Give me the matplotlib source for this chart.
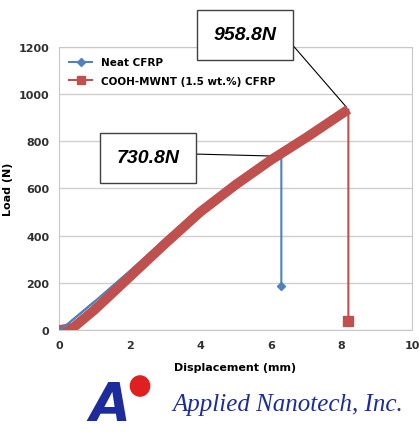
import matplotlib.pyplot as plt
from matplotlib.lines import Line2D
from matplotlib.patches import Circle

# Neat CFRP (displacement mm, load N)
neat_x = [0.0, 0.2, 1.0, 2.0, 3.0, 4.0, 5.0, 6.0, 6.3, 6.3]
neat_y = [0, 20, 120, 250, 385, 510, 620, 705, 731, 185]

# COOH-MWNT (1.5 wt.%) CFRP
mwnt_x = [0.0, 0.2, 0.4, 1.0, 2.0, 3.0, 4.0, 5.0, 6.0, 7.0, 8.0, 8.2, 8.2]
mwnt_y = [0, 5, 10, 85, 225, 365, 500, 615, 720, 815, 915, 935, 40]

peak_labels = ['730.8N', '958.8N']

blue = '#4f81bd'
red = '#c0504d'

fig = plt.figure(figsize=(4.19, 4.39), dpi=100)
ax = fig.add_axes([0.141, 0.246, 0.842, 0.645])

# blue series
ax.plot(neat_x, neat_y, color=blue, lw=1.5, marker='D', markersize=4,
        markevery=[len(neat_x) - 1], zorder=3)
# red series: thin line incl. drop, thick band for rising part
ax.plot(mwnt_x, mwnt_y, color=red, lw=1.5, marker='s', markersize=7,
        markevery=[len(mwnt_x) - 1], zorder=4)
ax.plot(mwnt_x[:-1], mwnt_y[:-1], color=red, lw=7, solid_capstyle='butt', zorder=4)
# blue visible slightly at the start
ax.plot(neat_x[:3], neat_y[:3], color=blue, lw=1.5, zorder=5)

ax.set_xlim(0, 10)
ax.set_ylim(0, 1200)
ax.set_xticks(range(0, 11, 2))
ax.set_yticks(range(0, 1201, 200))
ax.grid(axis='y', color='#d0d0d0', lw=1)
ax.set_axisbelow(True)
ax.tick_params(length=0, labelsize=8, pad=7)
for lab in ax.get_xticklabels() + ax.get_yticklabels():
    lab.set_fontweight('bold')
    lab.set_color('#303030')
for s in ax.spines.values():
    s.set_color('#c8c8c8')
ax.set_xlabel('Displacement (mm)', fontsize=8, fontweight='bold', labelpad=9)
ax.set_ylabel('Load (N)', fontsize=8, fontweight='bold', labelpad=4)

handles = [Line2D([], [], color=blue, lw=1.5, marker='D', markersize=4),
           Line2D([], [], color=red, lw=1.5, marker='s', markersize=6)]
ax.legend(handles, ['Neat CFRP', 'COOH-MWNT (1.5 wt.%) CFRP'], loc='upper left',
          frameon=False, prop={'weight': 'bold', 'size': 7.5},
          handlelength=2.2, borderaxespad=0.6, labelspacing=0.8)

boxstyle = dict(boxstyle='square,pad=0.85', fc='white', ec='#404040', lw=1)
txt = dict(fontsize=14, fontweight='bold', fontstyle='italic',
           family='Liberation Sans', ha='center', va='center', bbox=boxstyle)
ax.annotate(peak_labels[0], xy=(6.13, 737), xycoords='data',
            xytext=(148 / 419, 1 - 159 / 439), textcoords='figure fraction',
            arrowprops=dict(arrowstyle='-', color='black', lw=0.8,
                            shrinkA=0, relpos=(1.05, 0.75)), **txt)
ax.annotate(peak_labels[1], xy=(8.2, 935), xycoords='data',
            xytext=(245 / 419, 1 - 36 / 439), textcoords='figure fraction',
            arrowprops=dict(arrowstyle='-', color='black', lw=0.8,
                            shrinkA=0, relpos=(1.0, 1.0)), **txt)

# logo
fig.text(172 / 419, 1 - 405 / 439, 'Applied Nanotech, Inc.', fontsize=18,
         fontstyle='italic', family='Liberation Serif', color='#1c2c9c',
         ha='left', va='center')
fig.text(110 / 419, 1 - 406 / 439, 'A', fontsize=38, fontstyle='italic',
         fontweight='bold', family='DejaVu Sans', color='#1c2c9c',
         ha='center', va='center')
fig.patches.append(Circle((140 / 419, 1 - 387 / 439), 0.023,
                          transform=fig.transFigure, color='#e02020', zorder=5))

fig.savefig('out.png', dpi=100)
